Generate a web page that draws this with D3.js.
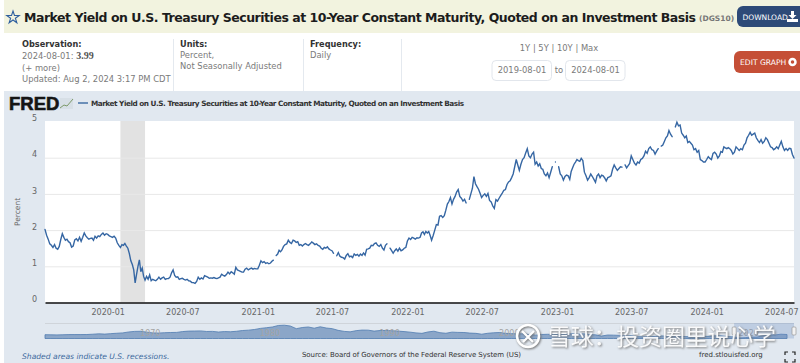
<!DOCTYPE html>
<html>
<head>
<meta charset="utf-8">
<title>DGS10</title>
<script src="https://cdn.jsdelivr.net/npm/d3@7"></script>
<style>
	html, body { margin: 0; padding: 0; background: #fff; overflow: hidden; }
	svg { display: block; font-family: "DejaVu Sans", sans-serif; }
	.grid .tick line { stroke: #e8e8e8; }
	.grid .domain, .axis--y .domain, .nav-axis .domain { display: none; }
	.axis--y .tick line, .nav-axis .tick line { display: none; }
	.axis text { fill: #666; font-size: 8px; font-family: "DejaVu Sans", sans-serif; }
	.nav-axis text { fill: #a4a4a4; font-size: 8px; font-family: "DejaVu Sans", sans-serif; }
	.meta { fill: #7a7a7a; font-size: 8.4px; }
	.meta-head { fill: #333; font-size: 8.2px; font-weight: bold; }
</style>
</head>
<body>
<svg id="chart" width="800" height="363"></svg>
<script>
const title = "Market Yield on U.S. Treasury Securities at 10-Year Constant Maturity, Quoted on an Investment Basis";

const startDate = "2019-08-01";
const endDate = "2024-08-01";
const recessionStart = "2020-02-01";
const recessionEnd = "2020-04-01";

const yTicks = [0, 1, 2, 3, 4, 5];
const xTicks = ["2020-01", "2020-07", "2021-01", "2021-07", "2022-01", "2022-07",
	"2023-01", "2023-07", "2024-01", "2024-07"];

// readings, spread evenly inside each month, null = holiday gap
const months = [
	"2019-08", "2019-09", "2019-10", "2019-11", "2019-12",
	"2020-01", "2020-02", "2020-03", "2020-04", "2020-05", "2020-06", "2020-07",
	"2020-08", "2020-09", "2020-10", "2020-11", "2020-12",
	"2021-01", "2021-02", "2021-03", "2021-04", "2021-05", "2021-06", "2021-07",
	"2021-08", "2021-09", "2021-10", "2021-11", "2021-12",
	"2022-01", "2022-02", "2022-03", "2022-04", "2022-05", "2022-06", "2022-07",
	"2022-08", "2022-09", "2022-10", "2022-11", "2022-12",
	"2023-01", "2023-02", "2023-03", "2023-04", "2023-05", "2023-06", "2023-07",
	"2023-08", "2023-09", "2023-10", "2023-11", "2023-12",
	"2024-01", "2024-02", "2024-03", "2024-04", "2024-05", "2024-06", "2024-07",
	"2024-08"
];
const yields = [
	[2.02, 1.86, 1.75, 1.62, 1.58, 1.52, 1.60, 1.50],
	[1.47, 1.55, 1.74, 1.90, 1.80, 1.72, 1.75, 1.68],
	[1.65, 1.53, 1.56, 1.73, 1.76, 1.70, 1.80, 1.69],
	[1.80, 1.92, 1.84, 1.79, 1.75, 1.77, 1.78, 1.72],
	[1.83, 1.78, 1.84, 1.82, 1.88, 1.92, 1.86, 1.90],
	[1.88, 1.84, 1.82, 1.80, 1.83, 1.78, 1.65, 1.58],
	[1.52, 1.60, 1.58, 1.63, 1.56, 1.50, 1.35, 1.15],
	[1.05, 0.90, 0.54, 0.78, 1.00, 1.18, 0.85, 0.95, 0.72],
	[0.62, 0.72, 0.64, 0.76, 0.60, 0.64, 0.62, 0.60],
	[0.64, 0.70, 0.64, 0.68, 0.70, 0.64, 0.66, 0.66],
	[0.70, 0.82, 0.90, 0.75, 0.70, 0.71, 0.64, 0.66],
	[0.67, 0.64, 0.62, 0.64, 0.60, 0.59, 0.55, 0.55],
	[0.53, 0.58, 0.70, 0.64, 0.68, 0.65, 0.74, 0.72],
	[0.70, 0.67, 0.68, 0.67, 0.69, 0.67, 0.66, 0.68],
	[0.70, 0.78, 0.75, 0.73, 0.77, 0.84, 0.79, 0.85],
	[0.82, 0.78, 0.97, 0.90, 0.88, 0.86, 0.84, 0.84],
	[0.92, 0.95, 0.90, 0.93, 0.95, 0.92, 0.94, 0.93],
	[0.93, 1.03, 1.15, 1.10, 1.13, 1.08, 1.10, 1.07],
	[1.09, 1.14, 1.17, null, 1.30, 1.34, 1.44, 1.40],
	[1.45, 1.55, 1.60, 1.62, 1.72, 1.66, 1.63, 1.72],
	[1.70, 1.66, 1.68, 1.58, 1.60, 1.56, 1.60, 1.63],
	[1.60, 1.58, 1.62, 1.67, 1.64, 1.60, 1.62, 1.58],
	[1.56, 1.50, 1.47, 1.52, 1.50, 1.54, 1.48, 1.45],
	[1.43, 1.36, null, 1.29, 1.38, 1.28, 1.25, 1.24],
	[1.20, 1.30, 1.35, 1.26, 1.28, 1.24, 1.34, 1.30],
	[1.33, 1.28, 1.34, 1.30, 1.37, 1.31, 1.47, 1.48],
	[1.50, 1.58, 1.57, 1.63, 1.65, 1.58, 1.55, 1.60],
	[1.50, 1.45, 1.58, 1.62, null, 1.50, 1.43, 1.36],
	[1.43, 1.48, 1.42, 1.50, 1.43, 1.45, 1.50, 1.52],
	[1.70, 1.78, 1.74, 1.80, 1.78, 1.75, 1.79, 1.78],
	[1.80, 1.92, 1.95, 1.88, 1.96, 1.92, 1.96, 1.85],
	[1.72, 1.85, 2.00, 2.15, 2.14, 2.38, 2.40, 2.35],
	[2.40, 2.55, 2.72, 2.79, 2.90, 2.72, 2.85, 2.93],
	[3.05, 3.12, 2.93, 2.88, 2.80, 2.85, 2.75, null],
	[2.85, 3.00, 3.15, 3.48, 3.28, 3.20, 3.13, 3.02],
	[2.90, 2.96, 3.00, 2.93, 3.01, 2.82, 2.78, 2.67],
	[2.60, 2.84, 2.80, 2.88, 2.95, 3.02, 3.10, 3.12],
	[3.26, 3.33, 3.36, 3.45, 3.55, 3.75, 3.95, 3.80],
	[3.65, 3.82, 3.95, 4.00, 4.13, 4.25, 4.05, 4.00],
	[4.10, 4.15, 3.82, 3.88, 3.77, 3.83, 3.70, 3.68],
	[3.55, 3.50, 3.58, 3.45, 3.60, 3.75, null, 3.88],
	[null, 3.75, 3.55, 3.50, 3.38, 3.48, 3.52, 3.50],
	[3.40, 3.62, 3.72, 3.82, 3.88, 3.95, 3.92, 3.90],
	[3.98, 3.92, 3.60, 3.50, 3.38, 3.45, 3.55, 3.48],
	[3.40, 3.32, 3.50, 3.55, 3.45, 3.52, 3.50, 3.44],
	[3.36, 3.45, 3.47, 3.50, 3.68, 3.80, 3.72, 3.65],
	[3.70, 3.75, 3.74, null, 3.80, 3.72, 3.78, 3.84],
	[4.05, 3.95, 3.85, 3.80, 3.88, 3.85, 3.95, 3.98],
	[4.05, 4.18, 4.12, 4.25, 4.30, 4.22, 4.20, 4.10],
	[4.18, 4.25, null, 4.32, 4.35, 4.45, 4.55, 4.60],
	[4.75, 4.65, 4.58, null, 4.85, 4.98, 4.88, 4.90],
	[4.68, 4.62, 4.55, 4.60, 4.42, 4.45, 4.40, 4.35],
	[4.22, 4.25, 4.15, 4.20, 3.95, 3.92, 3.88, 3.88],
	[3.95, 4.03, 3.98, 3.95, 4.12, 4.15, 4.10, 3.99],
	[4.05, 4.17, 4.15, 4.30, 4.27, 4.25, 4.28, 4.25],
	[4.20, 4.10, 4.15, 4.30, 4.25, 4.20, 4.25, 4.22],
	[4.35, 4.40, 4.55, 4.62, 4.70, 4.62, 4.65, 4.68],
	[4.55, 4.48, 4.42, 4.50, 4.40, 4.45, 4.55, 4.50],
	[4.40, 4.30, 4.28, 4.22, 4.25, 4.30, 4.25, 4.35],
	[4.45, 4.30, 4.20, 4.25, 4.20, 4.26, 4.25, 4.09],
	[3.99]
];

// long history for the navigator strip, two readings per year from 1962
const navYears = d3.range(1962, 2024.5, 0.5);
const navValues = [
	4.05, 3.95, 3.85, 4.00, 4.15, 4.20, 4.20, 4.25, 4.60, 5.00, 4.70, 5.20,
	5.60, 6.00, 7.00, 7.60, 7.70, 6.80, 6.00, 5.80, 6.20, 6.40, 6.50, 7.40,
	7.90, 8.00, 8.10, 7.50, 7.60, 6.90, 7.40, 7.20, 7.70, 8.50, 8.90, 9.60,
	10.80, 11.50, 12.30, 13.90, 14.20, 13.30, 10.50, 11.70, 12.30, 11.00, 12.50, 11.20,
	10.50, 8.70, 7.60, 7.10, 8.40, 9.00, 8.90, 7.90, 8.50, 8.60, 8.30, 7.90,
	7.40, 6.80, 6.00, 5.50, 7.00, 7.80, 6.20, 5.60, 6.80, 6.50, 6.40, 5.80,
	5.50, 4.60, 5.60, 6.10, 6.40, 5.50, 5.20, 5.00, 5.00, 4.20, 3.60, 4.30,
	4.50, 4.30, 4.20, 4.50, 5.10, 4.60, 5.00, 4.20, 3.90, 2.60, 3.70, 3.60,
	3.30, 2.80, 3.00, 2.00, 1.80, 1.80, 2.30, 2.80, 2.60, 2.20, 2.20, 2.10,
	1.60, 1.80, 2.30, 2.30, 2.90, 2.90, 2.20, 1.70, 0.65, 0.90, 1.50, 1.50,
	3.00, 3.80, 3.80, 4.60, 4.25
];
const navLabels = [1970, 1980, 1990, 2000, 2020];

function transform(x, y) {
	return `translate(${x}, ${y})`;
}

function make_header(svg) {
	svg.append("rect").attr("x", 4).attr("y", 0).attr("width", 796).attr("height", 33).attr("fill", "#f2f3df");

	svg.append("path")
		.attr("d", d3.symbol(d3.symbolStar, 48))
		.attr("transform", transform(13, 17.5))
		.attr("fill", "none")
		.attr("stroke", "#2f5f9e")
		.attr("stroke-width", 1.1);

	svg.append("text")
		.attr("x", 24).attr("y", 22)
		.attr("font-size", 12.5)
		.attr("font-weight", "bold")
		.attr("fill", "#1c1c1c")
		.attr("textLength", 672)
		.text(title);

	svg.append("text")
		.attr("x", 699).attr("y", 21)
		.attr("font-size", 7.5)
		.attr("font-weight", "bold")
		.attr("fill", "#777")
		.text("(DGS10)");

	const dl = svg.append("g").attr("transform", transform(737, 6));
	dl.append("rect").attr("width", 70).attr("height", 21).attr("rx", 6).attr("fill", "#2d4a78");
	dl.append("text").attr("x", 5.5).attr("y", 13.5).attr("font-size", 7.5).attr("fill", "#fff").text("DOWNLOAD");
	dl.append("path").attr("d", "M54 5h3v4h2.5l-4 4-4-4h2.5zM50 13h11v3h-11z").attr("fill", "#fff");
}

function make_meta(svg) {
	svg.append("text").attr("class", "meta-head").attr("x", 22).attr("y", 47).text("Observation:");
	const obs = svg.append("text").attr("class", "meta").attr("x", 22).attr("y", 59);
	obs.append("tspan").text("2024-08-01: ");
	obs.append("tspan").attr("font-family", "Liberation Serif, serif").attr("font-weight", "bold").attr("font-size", 10).attr("fill", "#555").text("3.99");
	svg.append("text").attr("class", "meta").attr("x", 22).attr("y", 71).text("(+ more)");
	svg.append("text").attr("class", "meta").attr("x", 22).attr("y", 82).text("Updated: Aug 2, 2024 3:17 PM CDT");

	svg.append("text").attr("class", "meta-head").attr("x", 180).attr("y", 47).text("Units:");
	svg.append("text").attr("class", "meta").attr("x", 180).attr("y", 58).text("Percent,");
	svg.append("text").attr("class", "meta").attr("x", 180).attr("y", 69).text("Not Seasonally Adjusted");

	svg.append("text").attr("class", "meta-head").attr("x", 310).attr("y", 47).text("Frequency:");
	svg.append("text").attr("class", "meta").attr("x", 310).attr("y", 58).text("Daily");

	[173, 303, 401].forEach(x => {
		svg.append("line").attr("x1", x + 0.5).attr("x2", x + 0.5).attr("y1", 39).attr("y2", 91).attr("stroke", "#e4e9ef");
	});

	svg.append("text").attr("class", "meta").attr("x", 559).attr("y", 51).attr("text-anchor", "middle").text("1Y | 5Y | 10Y | Max");

	[[492, "2019-08-01"], [565.5, "2024-08-01"]].forEach(b => {
		svg.append("rect").attr("x", b[0]).attr("y", 60.5).attr("width", 59.5).attr("height", 20).attr("rx", 4)
			.attr("fill", "#fff").attr("stroke", "#e2e6ec");
		svg.append("text").attr("class", "meta").attr("x", b[0] + 30).attr("y", 73).attr("text-anchor", "middle").text(b[1]);
	});
	svg.append("text").attr("class", "meta").attr("x", 559).attr("y", 73).attr("text-anchor", "middle").text("to");

	const edit = svg.append("g").attr("transform", transform(734, 51));
	edit.append("rect").attr("width", 76).attr("height", 22).attr("rx", 6).attr("fill", "#c54f36");
	edit.append("text").attr("x", 6).attr("y", 14).attr("font-size", 7.6).attr("fill", "#fff").text("EDIT GRAPH");
	edit.append("circle").attr("cx", 58.5).attr("cy", 11).attr("r", 3).attr("fill", "none").attr("stroke", "#fff").attr("stroke-width", 2.5);
}

function make_chart(svg) {
	const margin = {top: 121, left: 45, right: 6};
	const width = 800 - margin.left - margin.right;
	const bottom = 302.5;

	svg.append("rect").attr("x", 4).attr("y", 91).attr("width", 796).attr("height", 272).attr("fill", "#e1e8f0");

	// logo and legend
	svg.append("text").attr("x", 9).attr("y", 110)
		.attr("font-family", "Liberation Sans, sans-serif").attr("font-weight", "bold").attr("font-size", 18.5)
		.attr("stroke", "#151515").attr("stroke-width", 0.6)
		.attr("fill", "#151515").text("FRED");
	svg.append("rect").attr("x", 60).attr("y", 98).attr("width", 13).attr("height", 11).attr("fill", "#d7dfe6");
	svg.append("path").attr("d", "M60 108l4-3 3 1 6-7").attr("fill", "none").attr("stroke", "#7d9a6a");
	svg.append("line").attr("x1", 78).attr("x2", 88).attr("y1", 103).attr("y2", 103).attr("stroke", "#4572a7").attr("stroke-width", 1.5);
	svg.append("text").attr("x", 91).attr("y", 106)
		.attr("font-size", 7.3).attr("font-weight", "bold").attr("fill", "#333")
		.attr("textLength", 373)
		.text(title);

	const parseDay = d3.utcParse("%Y-%m-%d");
	const parseMonth = d3.utcParse("%Y-%m");
	const xScale = d3.scaleUtc().domain([parseDay(startDate), parseDay(endDate)]).range([margin.left, margin.left + width]);
	const yScale = d3.scaleLinear().domain([0, 5]).range([bottom, bottom - 5 * 36.2]);

	svg.append("rect")
		.attr("x", margin.left).attr("y", margin.top)
		.attr("width", width).attr("height", bottom - margin.top)
		.attr("fill", "#fff");

	svg.append("rect")
		.attr("x", xScale(parseDay(recessionStart))).attr("y", margin.top)
		.attr("width", xScale(parseDay(recessionEnd)) - xScale(parseDay(recessionStart)))
		.attr("height", bottom - margin.top)
		.attr("fill", "#e2e2e2");

	svg.append("g")
		.attr("class", "grid")
		.attr("transform", transform(margin.left, 0))
		.call(d3.axisLeft(yScale).tickValues(yTicks.slice(1, 5)).tickSize(-width).tickFormat(""));

	svg.append("g")
		.attr("class", "axis axis--y")
		.attr("transform", transform(margin.left, 0))
		.call(d3.axisLeft(yScale).tickValues(yTicks).tickFormat(d3.format("d")).tickSize(0).tickPadding(8))
		.call(g => g.selectAll("text").attr("dy", "-0.1em"));

	svg.append("text")
		.attr("transform", "translate(20, 212) rotate(-90)")
		.attr("text-anchor", "middle")
		.attr("font-size", 7.5)
		.attr("fill", "#666")
		.text("Percent");

	// flatten months into dated points
	const points = [];
	months.forEach((m, i) => {
		const t0 = parseMonth(m);
		const t1 = d3.utcMonth.offset(t0, 1);
		yields[i].forEach((v, j) => {
			points.push({date: new Date(+t0 + (t1 - t0) * j / yields[i].length), value: v});
		});
	});

	const line = d3.line()
		.defined(d => d.value !== null)
		.x(d => xScale(d.date))
		.y(d => yScale(d.value));

	svg.append("path")
		.datum(points)
		.attr("d", line)
		.attr("fill", "none")
		.attr("stroke", "#3566a3")
		.attr("stroke-linecap", "round")
		.attr("stroke-width", 1.4);

	svg.append("g")
		.attr("class", "axis axis--x")
		.attr("transform", transform(0, bottom))
		.call(d3.axisBottom(xScale).tickValues(xTicks.map(parseMonth)).tickSize(0).tickPadding(7).tickFormat(d3.utcFormat("%Y-%m")))
		.call(g => g.select(".domain").attr("stroke", "#111").attr("stroke-width", 1.6));

	// navigator
	const navTop = 323;
	const navBottom = 338.5;
	const navX = d3.scaleUtc()
		.domain([new Date(Date.UTC(1962, 0, 1)), parseDay(endDate)])
		.range([margin.left, margin.left + width]);
	const navY = d3.scaleLinear().domain([0, 16]).range([navBottom, navTop + 0.5]);
	const navDate = y => new Date(Date.UTC(Math.floor(y), (y % 1) * 12, 1));

	svg.append("line").attr("x1", margin.left).attr("x2", margin.left + width).attr("y1", navTop + 0.5).attr("y2", navTop + 0.5).attr("stroke", "#cfd4da");

	svg.append("path")
		.datum(navValues)
		.attr("d", d3.area()
			.x((d, i) => navX(navDate(navYears[i])))
			.y0(navBottom)
			.y1(d => navY(d)))
		.attr("fill", "#8ba6c8")
		.attr("stroke", "#4f7bb0")
		.attr("stroke-width", 0.8);

	svg.append("g")
		.attr("class", "nav-axis")
		.attr("transform", transform(0, 329))
		.call(d3.axisBottom(navX).tickValues(navLabels.map(y => new Date(Date.UTC(y, 0, 1)))).tickSize(0).tickPadding(1).tickFormat(d3.utcFormat("%Y")))
		.call(g => g.selectAll("text").attr("dx", 9));

	const selX = navX(parseDay(startDate));
	const selW = navX(parseDay(endDate)) - selX;
	svg.append("rect").attr("x", selX).attr("y", navTop).attr("width", selW).attr("height", navBottom - navTop)
		.attr("fill", "#6d8fc4").attr("fill-opacity", 0.3);
	[selX, selX + selW].forEach(x => {
		svg.append("rect").attr("x", x - 2).attr("y", 327).attr("width", 4).attr("height", 8).attr("rx", 1)
			.attr("fill", "#f2f2f2").attr("stroke", "#999").attr("stroke-width", 0.7);
	});

	// footer
	svg.append("text").attr("x", 22).attr("y", 359).attr("font-size", 7.6).attr("font-style", "italic").attr("fill", "#3d6a9e")
		.text("Shaded areas indicate U.S. recessions.");
	svg.append("text").attr("x", 302).attr("y", 357).attr("font-size", 7).attr("fill", "#333")
		.attr("textLength", 219)
		.text("Source: Board of Governors of the Federal Reserve System (US)");
	svg.append("text").attr("x", 699).attr("y", 357).attr("font-size", 7).attr("fill", "#333")
		.text("fred.stlouisfed.org");
	svg.append("path")
		.attr("d", "M785 356v-3h3M792 353h3v3M795 360v3h-3M788 363h-3v-3")
		.attr("transform", "translate(0,-1)")
		.attr("fill", "none").attr("stroke", "#222").attr("stroke-width", 1.2);
}

function make_watermark(svg) {
	const wm = svg.append("g")
		.style("filter", "drop-shadow(1px 1px 1px #6f6f6f)");
	wm.append("circle").attr("cx", 528).attr("cy", 336).attr("r", 11)
		.attr("fill", "none").attr("stroke", "#fff").attr("stroke-width", 2.5);
	wm.append("path").attr("d", "M522 331l6 6-5 5M534 331l-6 6 5 5")
		.attr("fill", "none").attr("stroke", "#fff").attr("stroke-width", 2.2);
	wm.append("text")
		.attr("x", 548).attr("y", 345)
		.attr("font-family", "Noto Sans CJK SC, sans-serif")
		.attr("font-size", 23)
		.attr("fill", "#fff")
		.attr("fill-opacity", 0.92)
		.attr("textLength", 228)
		.text("雪球：投资圈里说心学");
}

const svg = d3.select("#chart");
make_header(svg);
make_meta(svg);
make_chart(svg);
make_watermark(svg);
</script>
</body>
</html>
